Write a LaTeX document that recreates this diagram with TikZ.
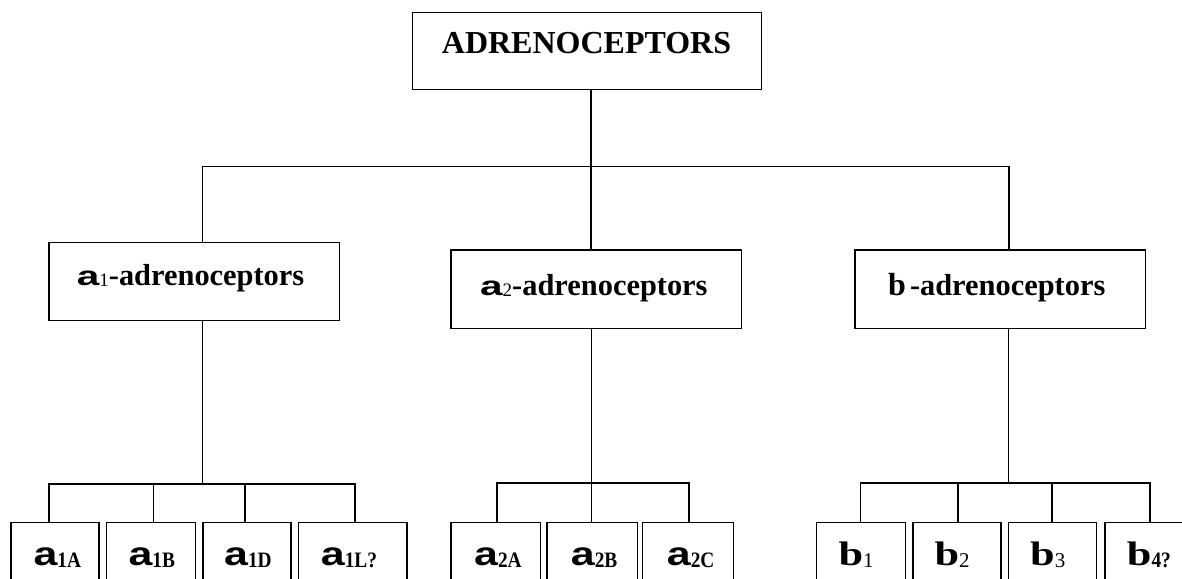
\documentclass[tikz,border=0pt]{standalone}
\usepackage{fontspec}
\setmainfont{Liberation Serif}
\newfontfamily\alffont{Liberation Sans}
\usepackage{graphicx}
\newcommand{\fs}[1]{\fontsize{#1}{#1}\selectfont}
\newcommand{\alf}[2]{{\alffont\bfseries\fs{#1}\scalebox{#2}[1]{a}}}
\newcommand{\bet}[2]{{\bfseries\fs{#1}\scalebox{#2}[1]{b}}}
\newcommand{\subb}[1]{\raisebox{-2pt}{\bfseries\fs{22}\scalebox{0.88}[1]{#1}}}
\newcommand{\subr}[1]{\raisebox{-2pt}{\mdseries\fs{21}#1}}
\newcommand{\subm}[1]{\raisebox{-1pt}{\mdseries\fs{19}#1}}
\tikzset{
  box/.style={draw, line width=1.5pt, inner sep=0pt},
  lbl/.style={anchor=base west, inner sep=0pt, font=\bfseries},
  conn/.style={line width=1.5pt}
}
\begin{document}
\begin{tikzpicture}[x=1pt, y=-1pt]
\useasboundingbox (0,0) rectangle (1182,578);
% top
\node[box, minimum width=349pt, minimum height=77pt] (root) at (587.2,50.8) {};
\node[lbl] (rootT) at (441.7,54) {\fs{32}ADRENOCEPTORS};
% middle
\node[box, minimum width=290.3pt, minimum height=78pt] (a1) at (194.2,281.3) {};
\node[lbl] (a1T) at (76.7,285.7) {\alf{27}{1.5}\subm{1}\fs{30.4}-adrenoceptors};
\node[box, minimum width=290.7pt, minimum height=78.3pt] (a2) at (596.3,289.2) {};
\node[lbl] (a2T) at (480,295) {\alf{27}{1.5}\subm{2}\fs{30.4}-adrenoceptors};
\node[box, minimum width=290.7pt, minimum height=78.3pt] (b) at (1000.3,289.2) {};
\node[lbl] (bT) at (888,295) {\bet{32}{1}\hspace{4pt}\fs{30.4}-adrenoceptors};
% bottom boxes
\node[box, minimum width=88pt, minimum height=98pt] (a1A) at (55,571.3) {};
\node[box, minimum width=88.6pt, minimum height=98pt] (a1B) at (151,571.3) {};
\node[box, minimum width=88pt, minimum height=98pt] (a1D) at (247,571.3) {};
\node[box, minimum width=108.3pt, minimum height=98pt] (a1L) at (352.85,571.3) {};
\node[box, minimum width=89.7pt, minimum height=98pt] (a2A) at (495.85,571.3) {};
\node[box, minimum width=90.7pt, minimum height=98pt] (a2B) at (592.35,571.3) {};
\node[box, minimum width=91pt, minimum height=98pt] (a2C) at (687.8,571.3) {};
\node[box, minimum width=89pt, minimum height=98pt] (b1) at (861.2,571.3) {};
\node[box, minimum width=88pt, minimum height=98pt] (b2) at (957,571.3) {};
\node[box, minimum width=88pt, minimum height=98pt] (b3) at (1052.7,571.3) {};
\node[box, minimum width=90pt, minimum height=98pt] (b4) at (1150,571.3) {};
% bottom labels
\node[lbl] (a1AT) at (33.3,565) {\alf{33}{1.3}\subb{1A}};
\node[lbl] (a1BT) at (128.3,565) {\alf{33}{1.3}\subb{1B}};
\node[lbl] (a1DT) at (224,565) {\alf{33}{1.3}\subb{1D}};
\node[lbl] (a1LT) at (320.7,565) {\alf{33}{1.3}\subb{1L?}};
\node[lbl] (a2AT) at (474,565) {\alf{33}{1.3}\subb{2A}};
\node[lbl] (a2BT) at (570.7,565) {\alf{33}{1.3}\subb{2B}};
\node[lbl] (a2CT) at (666.7,565) {\alf{33}{1.3}\subb{2C}};
\node[lbl] (b1T) at (838.3,565) {\bet{34}{1.3}\subr{1}};
\node[lbl] (b2T) at (934.3,565) {\bet{34}{1.3}\subr{2}};
\node[lbl] (b3T) at (1030,565) {\bet{34}{1.3}\subr{3}};
\node[lbl] (b4T) at (1126.7,565) {\bet{34}{1.3}\subb{4?}};
% upper connectors
\coordinate (j0) at (591,166.5);
\coordinate (j1) at (202.7,166.5);
\coordinate (j3) at (1009,166.5);
\draw[conn] (root.south -| j0) -- (j0);
\draw[conn] (a1.north -| j1) -- (j1) -- (j3) -- (b.north -| j3);
\draw[conn] (j0) -- (a2.north -| j0);
% a1 group
\coordinate (k1) at (202.7,484);
\coordinate (k1a) at (49,484);
\coordinate (k1b) at (153.3,484);
\coordinate (k1d) at (245,484);
\coordinate (k1l) at (355,484);
\draw[conn] (a1.south -| k1) -- (k1);
\draw[conn] (a1A.north -| k1a) -- (k1a) -- (k1l) -- (a1L.north -| k1l);
\draw[conn] (k1b) -- (a1B.north -| k1b);
\draw[conn] (k1d) -- (a1D.north -| k1d);
% a2 group
\coordinate (k2) at (591.7,483);
\coordinate (k2a) at (496.8,483);
\coordinate (k2c) at (689,483);
\draw[conn] (a2.south -| k2) -- (k2);
\draw[conn] (a2A.north -| k2a) -- (k2a) -- (k2c) -- (a2C.north -| k2c);
\draw[conn] (k2) -- (a2B.north -| k2);
% b group
\coordinate (k3) at (1008.5,483);
\coordinate (k31) at (860.5,483);
\coordinate (k32) at (958,483);
\coordinate (k33) at (1052,483);
\coordinate (k34) at (1149.8,483);
\draw[conn] (b.south -| k3) -- (k3);
\draw[conn] (b1.north -| k31) -- (k31) -- (k34) -- (b4.north -| k34);
\draw[conn] (k32) -- (b2.north -| k32);
\draw[conn] (k33) -- (b3.north -| k33);
\end{tikzpicture}
\end{document}
